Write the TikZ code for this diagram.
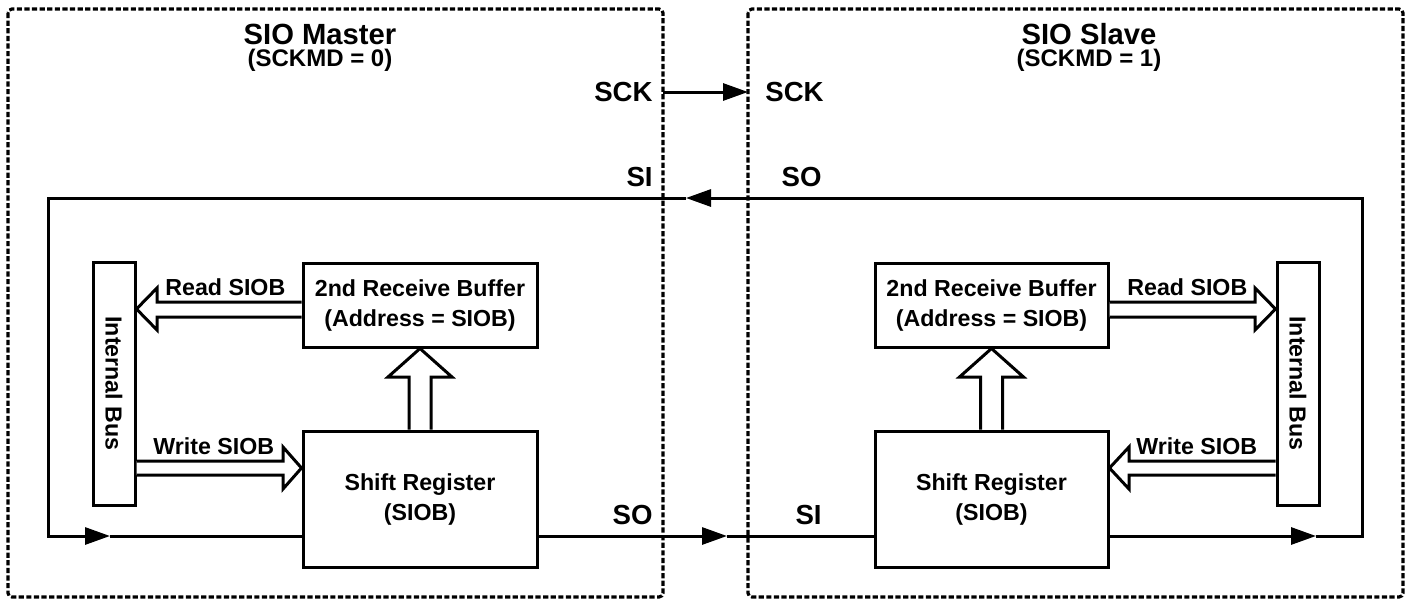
\documentclass[tikz,border=0pt]{standalone}
\usepackage{fontspec}
\setmainfont{Liberation Sans}
\usetikzlibrary{arrows.meta,calc}
\begin{document}
\begin{tikzpicture}[x=0.5pt,y=-0.5pt,
  lw/.style={line width=1.5pt},
  box/.style={draw,lw,fill=white,align=center,font=\fontsize{11.6}{15}\selectfont\bfseries,inner sep=0pt},
  frame/.style={draw,line width=1.6pt,dash pattern=on 2.6pt off 1.2pt,rounded corners=2pt},
  lbl/.style={font=\fontsize{11.6}{14}\selectfont\bfseries,inner sep=0pt},
  sig/.style={font=\fontsize{13.8}{16}\selectfont\bfseries,inner sep=0pt},
  ttl/.style={font=\fontsize{14.6}{17}\selectfont\bfseries,inner sep=0pt,anchor=base,text depth=0pt},
  sub/.style={font=\fontsize{12}{14}\selectfont\bfseries,inner sep=0pt,anchor=base},
  wire/.style={lw},
  arr/.style={lw,-{Triangle[length=12.5pt,width=8.5pt]}},
  hollow/.style={lw,fill=white,line join=miter}
]
\useasboundingbox (0,0) rectangle (1410,600);
% frames
\draw[frame] (8,9) rectangle (663,597);
\draw[frame] (748,9) rectangle (1403,597);
% titles
\node[ttl] (tM) at (320,44.5) {SIO Master};
\node[sub] (sM) at (320,66.6) {(SCKMD = 0)};
\node[ttl] (tS) at (1089,44.5) {SIO Slave};
\node[sub] (sS) at (1089,66.6) {(SCKMD = 1)};
% boxes
\node[box,minimum width=117pt,minimum height=42pt] (rbL) at (420,305) {2nd Receive Buffer\\(Address = SIOB)};
\node[box,minimum width=117pt,minimum height=68pt] (srL) at (420,499) {Shift Register\\(SIOB)};
\node[box,minimum width=21pt,minimum height=121.5pt] (busL) at (114,383.5) {};
\node[lbl,rotate=-90] (busLt) at (busL.center) {Internal Bus};
\node[box,minimum width=116.5pt,minimum height=42pt] (rbR) at (991.5,305) {2nd Receive Buffer\\(Address = SIOB)};
\node[box,minimum width=116.5pt,minimum height=68pt] (srR) at (991.5,499) {Shift Register\\(SIOB)};
\node[box,minimum width=21pt,minimum height=121.5pt] (busR) at (1298,383.5) {};
\node[lbl,rotate=-90] (busRt) at (busR.center) {Internal Bus};
% hollow arrows left
\draw[hollow] (rbL.west |- 0,302) -- (157,302) -- (157,288) -- (busL.east |- 0,309) -- (157,330) -- (157,317) -- (rbL.west |- 0,317);
\draw[hollow] (busL.east |- 0,461) -- (283,461) -- (283,447) -- (srL.west |- 0,468) -- (283,489) -- (283,475) -- (busL.east |- 0,475);
\draw[hollow] ($(srL.north)+(-11,0)$) -- (409,377) -- (388,377) -- (rbL.south) -- (452,377) -- (431,377) -- ($(srL.north)+(11,0)$);
% hollow arrows right
\draw[hollow] (rbR.east |- 0,302) -- (1255,302) -- (1255,288) -- (busR.west |- 0,309) -- (1255,330) -- (1255,317) -- (rbR.east |- 0,317);
\draw[hollow] (busR.west |- 0,461) -- (1129,461) -- (1129,447) -- (srR.east |- 0,468) -- (1129,489) -- (1129,475) -- (busR.west |- 0,475);
\draw[hollow] ($(srR.north)+(-11,0)$) -- (980.5,377) -- (959.5,377) -- (rbR.south) -- (1023.5,377) -- (1002.5,377) -- ($(srR.north)+(11,0)$);
\node[lbl,anchor=west] (rdL) at (165,287) {Read SIOB};
\node[lbl,anchor=west] (wrL) at (153,446) {Write SIOB};
\node[lbl,anchor=west] (rdR) at (1127,287) {Read SIOB};
\node[lbl,anchor=west] (wrR) at (1136,446) {Write SIOB};
% coordinates of the loop
\coordinate (srLo) at (srL.west |- 0,536);
\coordinate (srLso) at (srL.east |- 0,536);
\coordinate (srRi) at (srR.west |- 0,536);
\coordinate (srRso) at (srR.east |- 0,536);
\coordinate (rb) at (1362,536);
\coordinate (rt) at (1362,198);
\coordinate (lt) at (48,198);
\coordinate (lb) at (48,536);
\coordinate (a1) at (1316,536);
\coordinate (a2) at (686,198);
\coordinate (a3) at (110,536);
\coordinate (a4) at (727,536);
\coordinate (ck1) at (663,92);
\coordinate (ck2) at (748,92);
% wires
\draw[arr] (srRso) -- (a1);
\draw[arr] (a1) -- (rb) -- (rt) -- (a2);
\draw[arr] (a2) -- (lt) -- (lb) -- (a3);
\draw[wire] (a3) -- (srLo);
\draw[arr] (srLso) -- (a4);
\draw[wire] (a4) -- (srRi);
\draw[arr] (ck1) -- (ck2);
% signal labels
\node[sig,anchor=east] (sckL) at (653,92) {SCK};
\node[sig,anchor=west] (sckR) at (765,92) {SCK};
\node[sig,anchor=east] (siL) at (653,177) {SI};
\node[sig,anchor=east] (soR) at (822,177) {SO};
\node[sig,anchor=east] (soL) at (653,515) {SO};
\node[sig,anchor=east] (siR) at (822,515) {SI};
\end{tikzpicture}
\end{document}
